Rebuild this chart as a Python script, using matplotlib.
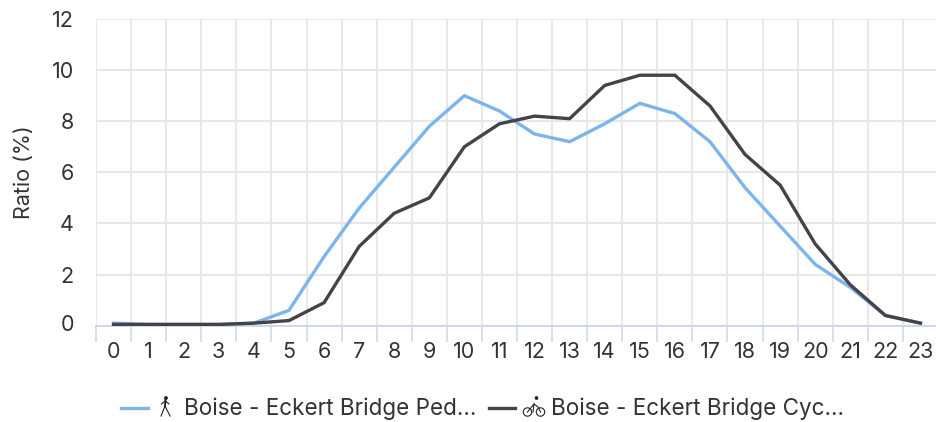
import matplotlib
matplotlib.use("Agg")
import matplotlib.pyplot as plt
from matplotlib.lines import Line2D
from matplotlib.patches import Circle
from matplotlib.transforms import IdentityTransform, ScaledTranslation

# ratio per hour of day
hours = list(range(24))
pedestrians = [0.1, 0.05, 0.05, 0.05, 0.1, 0.6, 2.7, 4.6, 6.2, 7.8, 9.0, 8.4,
               7.5, 7.2, 7.9, 8.7, 8.3, 7.2, 5.4, 3.9, 2.4, 1.5, 0.4, 0.1]
cyclists = [0.05, 0.05, 0.05, 0.05, 0.1, 0.2, 0.9, 3.1, 4.4, 5.0, 7.0, 7.9,
            8.2, 8.1, 9.4, 9.8, 9.8, 8.6, 6.7, 5.5, 3.2, 1.6, 0.4, 0.1]
y_ticks = [0, 2, 4, 6, 8, 10, 12]
ped_label = "Boise - Eckert Bridge Ped..."
cyc_label = "Boise - Eckert Bridge Cyc..."

W, H = 937, 422
BLUE = "#7cb5ec"
DARK = "#434348"
GRID = "#e6e6e6"
AXIS = "#ccd6eb"
TEXT = "#333333"
ICON = "#222222"

plt.rcParams["font.family"] = ["Inter", "DejaVu Sans"]

fig = plt.figure(figsize=(W / 100, H / 100), dpi=100)
ax = fig.add_axes([96 / W, 1 - 325.7 / H, 842 / W, (325.7 - 19) / H])

ax.plot(hours, pedestrians, color=BLUE, lw=2.4, solid_joinstyle="miter", zorder=3)
ax.plot(hours, cyclists, color=DARK, lw=2.4, solid_joinstyle="miter", zorder=4)

ax.set_xlim(-0.5, 23.5)
ax.set_ylim(0, 12)
ax.set_xticks(hours)
ax.set_xticks([h - 0.5 for h in hours] + [23.5], minor=True)
ax.set_yticks(y_ticks)
ax.tick_params(axis="x", which="major", length=0, pad=11.5, labelsize=15.5, labelcolor=TEXT)
ax.tick_params(axis="x", which="minor", length=11.5, width=1.1, color=AXIS)
ax.tick_params(axis="y", length=0, pad=16, labelsize=15.5, labelcolor=TEXT)
ax.grid(True, axis="y", color=GRID, lw=1.3)
ax.grid(True, axis="x", which="minor", color=GRID, lw=1.3)
ax.set_axisbelow(True)
for side in ["top", "right", "left"]:
    ax.spines[side].set_visible(False)
ax.spines["bottom"].set_color(AXIS)
ax.spines["bottom"].set_linewidth(1.3)

# the 0 label sits a little above its line in the original
zero_label = ax.get_yticklabels()[0]
zero_label.set_transform(zero_label.get_transform() + ScaledTranslation(0, 3 / 100, fig.dpi_scale_trans))

fig.text(24 / W, 1 - 172 / H, "Ratio (%)", rotation=90, ha="center", va="center",
         fontsize=15.5, color=TEXT)


def px(x, y):
    return x / W, 1 - y / H


def stroke(points, lw=0.8):
    xs, ys = zip(*[px(x, y) for x, y in points])
    fig.add_artist(Line2D(xs, ys, color=ICON, lw=lw, transform=fig.transFigure))


def dot(x, y, r, fill=True):
    fig.add_artist(Circle((x, H - y), r, transform=IdentityTransform(), fill=fill,
                          ec=ICON, fc=ICON if fill else "none", lw=0.8))


# legend
fig.add_artist(Line2D(*zip(px(121, 408), px(148, 408)), color=BLUE, lw=2.4))
fig.add_artist(Line2D(*zip(px(489, 408), px(515, 408)), color=DARK, lw=2.4))
fig.text(184 / W, 1 - 409 / H, ped_label, ha="left", va="center", fontsize=16.2, color=TEXT)
fig.text(551 / W, 1 - 409 / H, cyc_label, ha="left", va="center", fontsize=16.2, color=TEXT)

# walker icon
dot(166, 398, 1.3)
stroke([(165.5, 400), (165, 406)], lw=1.4)
stroke([(165, 401), (161.5, 404)])
stroke([(165.5, 401), (169, 404)])
stroke([(165, 406), (161, 416)])
stroke([(165, 406), (170, 416)])

# bike icon
dot(527.5, 412, 4.2, fill=False)
dot(540.5, 412, 4.2, fill=False)
dot(536.5, 398, 1.3)
stroke([(527.5, 412), (534, 404), (538, 407), (540.5, 412)])
stroke([(534, 404), (533, 412)])

fig.savefig("out.png", dpi=100)
